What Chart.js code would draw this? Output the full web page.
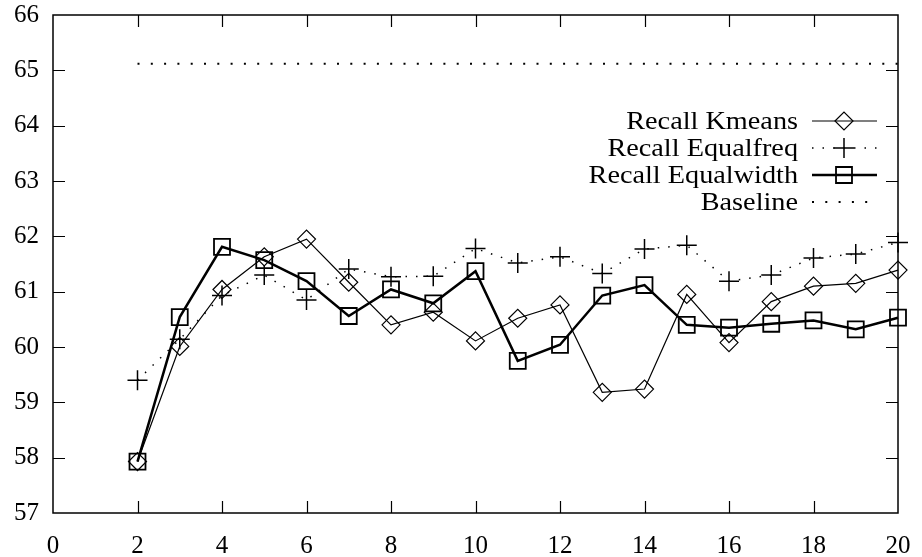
<!DOCTYPE html>
<html>
<head>
<meta charset="utf-8">
<script src="https://cdn.jsdelivr.net/npm/chart.js@4/dist/chart.umd.min.js"></script>
<style>
  html, body { margin: 0; padding: 0; background: #fff; }
  #c { display: block; }
</style>
</head>
<body>
<canvas id="c" width="922" height="557"></canvas>
<script>
// Number of bins (x) and recall values (y)
const bins = [2, 3, 4, 5, 6, 7, 8, 9, 10, 11, 12, 13, 14, 15, 16, 17, 18, 19, 20];
const recallKmeans = [57.93, 60.01, 61.04, 61.63, 61.95, 61.17, 60.40, 60.63, 60.11, 60.52, 60.76, 59.18, 59.24, 60.95, 60.08, 60.82, 61.10, 61.15, 61.39];
const recallEqualfreq = [59.40, 60.14, 60.93, 61.30, 60.85, 61.41, 61.27, 61.28, 61.78, 61.52, 61.63, 61.33, 61.77, 61.84, 61.19, 61.30, 61.61, 61.68, 61.89];
const recallEqualwidth = [57.93, 60.54, 61.81, 61.57, 61.19, 60.56, 61.04, 60.79, 61.37, 59.75, 60.04, 60.93, 61.12, 60.40, 60.35, 60.42, 60.48, 60.32, 60.53];
const baselineX = [2, 20];
const baselineY = [65.12, 65.12];
const seriesNames = ['Recall Kmeans', 'Recall Equalfreq', 'Recall Equalwidth', 'Baseline'];
const xTicks = [0, 2, 4, 6, 8, 10, 12, 14, 16, 18, 20];
const yTicks = [57, 58, 59, 60, 61, 62, 63, 64, 65, 66];

const FONT = 'Liberation Serif, Times New Roman, serif';
const pts = (xs, ys) => xs.map((x, i) => ({ x: x, y: ys[i] }));

// Frame with inward tick marks on all four sides
const framePlugin = {
  id: 'frame',
  beforeDatasetsDraw(chart) {
    const { ctx, chartArea: a, scales } = chart;
    ctx.save();
    ctx.strokeStyle = '#000';
    ctx.lineWidth = 1.5;
    ctx.strokeRect(a.left, a.top, a.right - a.left, a.bottom - a.top);
    ctx.lineWidth = 1.2;
    const L = 12;
    ctx.beginPath();
    xTicks.slice(1, -1).forEach(v => {
      const px = Math.round(scales.x.getPixelForValue(v)) + 0.5;
      ctx.moveTo(px, a.bottom); ctx.lineTo(px, a.bottom - L);
      ctx.moveTo(px, a.top); ctx.lineTo(px, a.top + L);
    });
    yTicks.slice(1, -1).forEach(v => {
      const py = Math.round(scales.y.getPixelForValue(v)) + 0.5;
      ctx.moveTo(a.left, py); ctx.lineTo(a.left + L, py);
      ctx.moveTo(a.right, py); ctx.lineTo(a.right - L, py);
    });
    ctx.stroke();
    ctx.restore();
  }
};

// Key in the upper right: right-aligned names followed by a line sample
const keyPlugin = {
  id: 'key',
  afterDraw(chart) {
    const { ctx } = chart;
    const textRight = 798, x0 = 812, x1 = 877, mx = 844;
    const rows = [121, 148, 175, 202];
    const stretch = 1.13;
    ctx.save();
    chart.data.datasets.forEach((ds, i) => {
      const y = rows[i];
      ctx.save();
      ctx.font = '25px ' + FONT;
      ctx.fillStyle = '#000';
      ctx.textAlign = 'right';
      ctx.textBaseline = 'middle';
      ctx.translate(textRight, y + 1);
      ctx.scale(stretch, 1);
      ctx.fillText(ds.label, 0, 0);
      ctx.restore();

      ctx.save();
      ctx.strokeStyle = '#000';
      ctx.lineWidth = ds.borderWidth;
      ctx.setLineDash(ds.borderDash || []);
      ctx.beginPath();
      ctx.moveTo(x0, y); ctx.lineTo(x1, y);
      ctx.stroke();
      ctx.restore();
      if (ds.pointRadius > 0) {
        ctx.save();
        ctx.strokeStyle = '#000';
        ctx.fillStyle = 'rgba(0,0,0,0)';
        ctx.lineWidth = ds.pointBorderWidth;
        Chart.helpers.drawPoint(ctx, { pointStyle: ds.pointStyle, radius: ds.pointRadius, rotation: 0, borderWidth: ds.pointBorderWidth }, mx, y);
        ctx.restore();
      }
    });
    ctx.restore();
  }
};

new Chart(document.getElementById('c'), {
  type: 'line',
  data: {
    datasets: [
      {
        label: seriesNames[0],
        data: pts(bins, recallKmeans),
        borderColor: '#000', borderWidth: 1.2,
        pointStyle: 'rectRot', pointRadius: 9, pointBorderWidth: 1.2,
        pointBorderColor: '#000', pointBackgroundColor: 'rgba(0,0,0,0)',
        tension: 0, fill: false, clip: false
      },
      {
        label: seriesNames[1],
        data: pts(bins, recallEqualfreq),
        borderColor: '#000', borderWidth: 1.5, borderDash: [1.5, 9],
        pointStyle: 'cross', pointRadius: 10, pointBorderWidth: 1.5,
        pointBorderColor: '#000', pointBackgroundColor: 'rgba(0,0,0,0)',
        tension: 0, fill: false, clip: false
      },
      {
        label: seriesNames[2],
        data: pts(bins, recallEqualwidth),
        borderColor: '#000', borderWidth: 2.5,
        pointStyle: 'rect', pointRadius: 11.3, pointBorderWidth: 1.8,
        pointBorderColor: '#000', pointBackgroundColor: 'rgba(0,0,0,0)',
        tension: 0, fill: false, clip: false
      },
      {
        label: seriesNames[3],
        data: pts(baselineX, baselineY),
        borderColor: '#000', borderWidth: 2, borderDash: [2, 11.3],
        pointRadius: 0, pointBorderWidth: 0,
        tension: 0, fill: false, clip: false
      }
    ]
  },
  options: {
    responsive: false,
    devicePixelRatio: 1,
    animation: false,
    layout: { padding: { top: 15, right: 24, left: 0, bottom: 0 } },
    plugins: { legend: { display: false }, tooltip: { enabled: false } },
    scales: {
      x: {
        type: 'linear', min: 0, max: 20,
        afterBuildTicks: s => { s.ticks = xTicks.map(v => ({ value: v })); },
        afterFit: s => { s.height = 44; s.paddingLeft = 0; s.paddingRight = 0; },
        grid: { display: false, drawTicks: false },
        border: { display: false },
        ticks: { color: '#000', font: { family: FONT, size: 25 }, padding: 18, maxRotation: 0 }
      },
      y: {
        type: 'linear', min: 57, max: 66,
        afterBuildTicks: s => { s.ticks = yTicks.map(v => ({ value: v })); },
        afterFit: s => { s.width = 53; s.paddingTop = 0; s.paddingBottom = 0; },
        grid: { display: false, drawTicks: false },
        border: { display: false },
        ticks: { color: '#000', font: { family: FONT, size: 25 }, padding: 14 }
      }
    }
  },
  plugins: [framePlugin, keyPlugin]
});
</script>
</body>
</html>
